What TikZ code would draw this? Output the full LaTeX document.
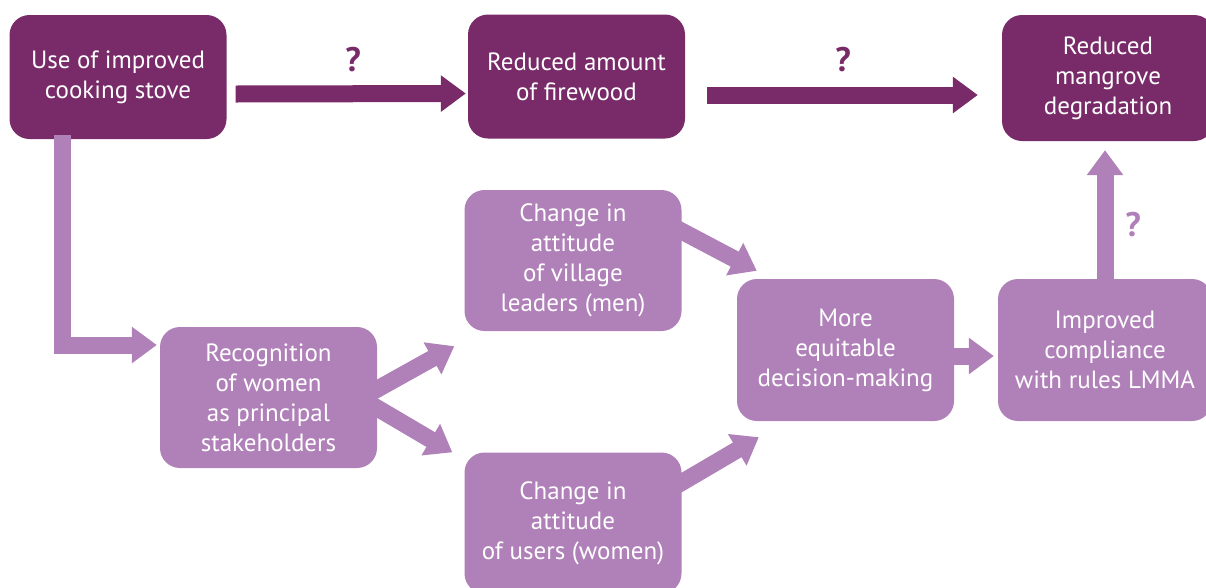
\documentclass[tikz,border=0pt]{standalone}
\usepackage{fontspec}
\setmainfont{PT Sans}
\usetikzlibrary{arrows.meta,positioning}
\definecolor{darkpurple}{RGB}{120,43,104}
\definecolor{lightpurple}{RGB}{176,128,184}
\tikzset{
    box/.style={rounded corners=20pt, inner sep=0pt, align=center, text=white,
        minimum width=217pt, minimum height=141pt, font=\fontsize{25}{30}\selectfont},
    darkbox/.style={box, fill=darkpurple, minimum height=124pt},
    lightbox/.style={box, fill=lightpurple},
    bigarrow/.style={line width=17pt, -{Triangle[length=25pt,width=35pt]}},
    qmark/.style={font=\fontsize{34}{34}\selectfont\bfseries, inner sep=0pt}
}
\begin{document}
\begin{tikzpicture}[x=1pt,y=-1pt]
    \useasboundingbox (0,0) rectangle (1206,587);
    \clip (0,0) rectangle (1206,587);
    % top row
    \node[darkbox] (stove) at (118,77) {Use of improved\\cooking stove};
    \node[darkbox] (firewood) at (576.5,76.5) {Reduced amount\\of firewood};
    \node[darkbox, minimum width=212pt, minimum height=126pt] (mangrove) at (1108,78)
        {Reduced\\mangrove\\degradation};
    % lower part
    \node[lightbox] (recog) at (268.5,397.5) {Recognition\\of women\\as principal\\stakeholders};
    \node[lightbox] (leaders) at (573,260.5) {Change in\\attitude\\of village\\leaders (men)};
    \node[lightbox] (users) at (573,523) {Change in\\attitude\\of users (women)};
    \node[lightbox, minimum height=142pt] (decision) at (845.5,350) {More\\equitable\\decision-making};
    \node[lightbox, minimum width=214pt, minimum height=142pt] (compliance) at (1105,350)
        {Improved\\compliance\\with rules LMMA};

    \draw[bigarrow, darkpurple] ([shift={(9,17)}]stove.east) -- ([shift={(-2,17)}]firewood.west);
    \draw[bigarrow, darkpurple] ([shift={(22,18.5)}]firewood.east) -- ([shift={(-24,17)}]mangrove.west);
    \node[qmark, text=darkpurple] (q1) at (353,60) {?};
    \node[qmark, text=darkpurple] (q2) at (843,60) {?};

    \draw[bigarrow, lightpurple] ([shift={(53.5,-4)}]stove.south west) |- ([shift={(-3,-52.5)}]recog.west);
    \draw[bigarrow, lightpurple] ([shift={(-6,-5)}]recog.east) -- ([shift={(-10,15)}]leaders.south west);
    \draw[bigarrow, lightpurple] ([shift={(-6,7)}]recog.east) -- ([shift={(-12,0)}]users.north west);
    \draw[bigarrow, lightpurple] ([shift={(-6,-32.5)}]leaders.east) -- ([shift={(20,-8)}]decision.north west);
    \draw[bigarrow, lightpurple] ([shift={(-6,-37)}]users.east) -- ([shift={(22,16)}]decision.south west);
    \draw[bigarrow, lightpurple] ([shift={(-2,6)}]decision.east) -- ([shift={(-4,6)}]compliance.west);
    \draw[bigarrow, lightpurple, shorten >=9pt] (compliance.north) -- (compliance.north |- mangrove.south);
    \node[qmark, text=lightpurple] (q3) at (1133,225) {?};
\end{tikzpicture}
\end{document}
